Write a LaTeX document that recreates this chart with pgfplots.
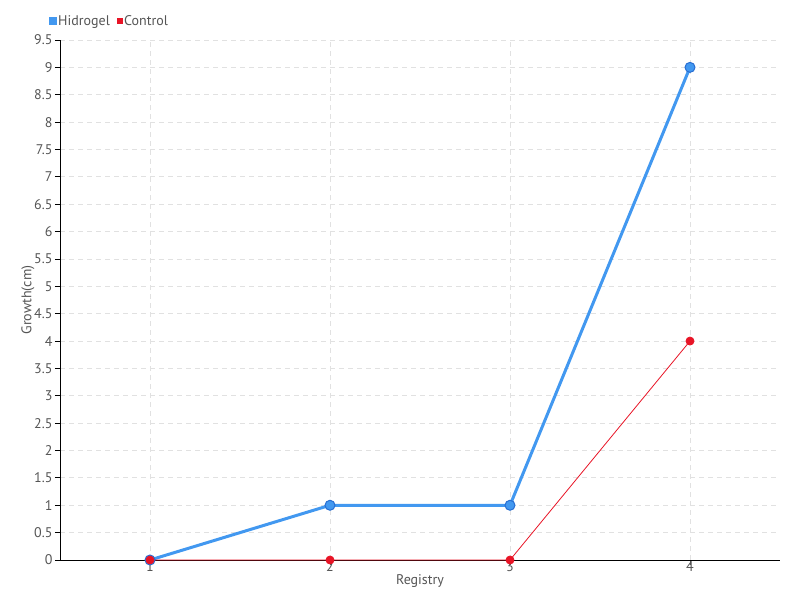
\documentclass[border=0pt]{standalone}
\usepackage{pgfplots}
\pgfplotsset{compat=1.18}
\usepackage{fontspec}
\setmainfont{PT Sans}
\definecolor{hidro}{RGB}{66,152,240}
\definecolor{hidroedge}{RGB}{40,110,210}
\definecolor{ctrl}{RGB}{232,20,38}
\definecolor{txt}{RGB}{85,85,85}
\definecolor{gridc}{RGB}{225,225,225}
\begin{document}
\begin{tikzpicture}
\useasboundingbox (0,0) rectangle (800pt,600pt);
\begin{axis}[
  at={(60pt,40pt)}, anchor=south west,
  scale only axis, width=720pt, height=520pt,
  xmin=0.5, xmax=4.5, ymin=0, ymax=9.5,
  xtick={1,2,3,4},
  ytick={0,0.5,...,9.5},
  yticklabels={0,0.5,1,1.5,2,2.5,3,3.5,4,4.5,5,5.5,6,6.5,7,7.5,8,8.5,9,9.5},
  /pgf/number format/assume math mode=true,
  axis x line*=bottom, axis y line*=left,
  axis line style={black, line width=0.8pt, -},
  tick align=outside,
  major tick length=5pt,
  tick style={black, line width=0.8pt},
  xtick style={txt, line width=0.8pt},
  grid=major,
  major grid style={gridc, dashed, dash pattern=on 5pt off 4pt, line width=0.8pt},
  ticklabel style={font=\fontsize{14}{14}\selectfont, text=txt},
  xticklabel style={yshift=7pt},
  yticklabel style={xshift=1pt},
  xlabel={Registry}, ylabel={Growth(cm)},
  label style={font=\fontsize{14}{14}\selectfont, text=txt},
  xlabel style={yshift=4pt},
  ylabel style={yshift=-7pt},
  legend style={at={(rel axis cs:-0.016,1.0365)}, anchor=west, draw=none, fill=none,
    font=\fontsize{14}{14}\selectfont, text=txt, legend columns=2,
    /tikz/every even column/.append style={column sep=6pt},
    inner sep=0pt, nodes={inner sep=1pt}},
  legend cell align=left,
]
\addplot[hidro, line width=3pt, mark=*, mark size=5pt,
  mark options={fill=hidro, draw=hidroedge, line width=1pt},
  legend image code/.code={\fill[hidro] (0pt,-2.5pt) rectangle (5.5pt,3pt);}]
  coordinates {(1,0) (2,1) (3,1) (4,9)};
\addlegendentry{Hidrogel}
\addplot[ctrl, line width=0.8pt, mark=*, mark size=4pt,
  mark options={fill=ctrl, draw=ctrl},
  legend image code/.code={\fill[ctrl] (0pt,-2.5pt) rectangle (5.5pt,3pt);}]
  coordinates {(1,0) (2,0) (3,0) (4,4)};
\addlegendentry{Control}
\end{axis}
\end{tikzpicture}
\end{document}
